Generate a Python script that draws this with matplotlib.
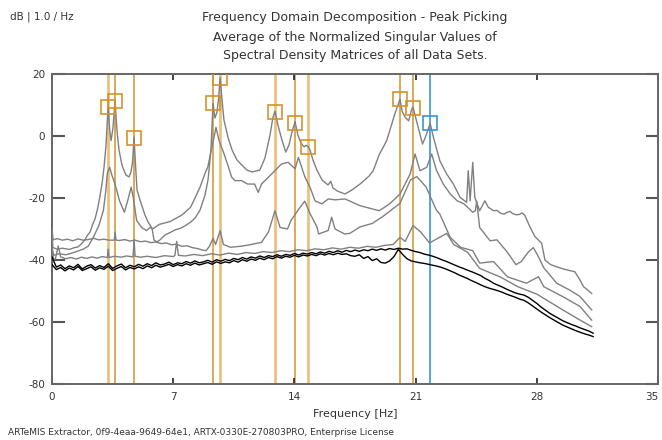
import numpy as np
import matplotlib
matplotlib.use("Agg")
import matplotlib.pyplot as plt

plt.rcParams['font.family'] = ['DejaVu Sans']
plt.rcParams['axes.unicode_minus'] = False

# ---------------- data ----------------
sv1_f = [0.00, 0.05, 0.3, 0.6, 1.0, 1.3, 1.5, 1.7, 1.9, 2.05, 2.2, 2.35, 2.5, 2.65, 2.77, 2.9, 3.0, 3.12,
         3.24, 3.33, 3.41, 3.52, 3.64, 3.75, 3.87, 4.04, 4.27, 4.45, 4.56, 4.65, 4.74, 4.82, 4.91, 5.08,
         5.25, 5.37, 5.54, 5.66, 5.78, 5.89, 6.06, 6.24, 6.53, 6.8, 7.1, 7.4, 7.68, 8.0, 8.26, 8.55, 8.84,
         9.01, 9.18, 9.30, 9.41, 9.53, 9.62, 9.71, 9.82, 9.93, 10.17, 10.4, 10.68, 10.97, 11.26, 11.55,
         11.78, 12.0, 12.3, 12.59, 12.76, 12.88, 13.05, 13.28, 13.5, 13.69, 13.86, 14.04, 14.2, 14.38,
         14.56, 14.68, 14.79, 14.9, 15.07, 15.3, 15.6, 15.94, 16.1, 16.23, 16.5, 16.92, 17.3, 17.79, 18.3,
         18.55, 18.9, 19.33, 19.8, 20.1, 20.22, 20.4, 20.6, 20.78, 20.85, 21.1, 21.4, 21.6, 21.84, 22.03,
         22.4, 22.8, 23.18, 23.57, 23.95, 24.04, 24.15, 24.3, 24.42, 24.7, 25.0, 25.2, 25.5, 25.7, 25.9,
         26.1, 26.3, 26.45, 26.6, 26.8, 27.0, 27.15, 27.3, 27.6, 27.9, 28.28, 28.47, 28.8, 29.15, 29.6,
         30.2, 30.5, 30.7, 31.17]
sv1_db = [-30.5, -36.0, -36.5, -36.2, -36.6, -36.0, -35.8, -34.8, -33.5, -32.0, -31.0, -28.5, -26.5, -23.0,
          -19.4, -15.0, -10.3, -3.0, 9.6, 2.0, -1.5, 2.5, 11.4, 2.0, -4.5, -9.4, -12.6, -13.2, -11.6, -8.5,
          -0.4, -9.0, -17.4, -20.6, -23.5, -25.5, -27.7, -28.7, -29.8, -33.5, -34.2, -33.5, -31.9, -31.2,
          -30.3, -29.8, -29.0, -27.8, -26.5, -23.9, -19.0, -14.2, -4.5, 10.6, 5.8, 7.7, 12.0, 18.8, 11.6,
          5.2, -0.6, -4.5, -7.7, -9.4, -11.0, -11.6, -11.3, -11.0, -7.1, 0.3, 6.0, 8.0, 3.5, -1.3, -5.2,
          -2.9, 1.3, 4.6, 0.3, -2.3, -3.5, -3.0, -3.4, -4.5, -7.7, -11.0, -14.2, -15.8, -14.6, -16.8, -17.8,
          -18.7, -17.5, -15.5, -13.0, -11.2, -6.0, -1.5, 7.1, 11.9, 8.0, 6.0, 4.9, 8.7, 9.3, 3.9, -2.6, 0.1,
          4.1, -0.4, -8.0, -12.3, -15.5, -19.8, -21.4, -11.2, -20.9, -8.5, -19.8, -24.1, -20.9, -23.0, -24.1,
          -24.0, -24.9, -25.2, -24.6, -24.3, -25.0, -25.4, -25.3, -24.8, -25.5, -29.3, -32.5, -34.6, -40.0,
          -41.5, -42.2, -43.0, -43.8, -46.5, -48.6, -50.8]

sv2_f = [0.0, 0.1, 0.4, 0.8, 1.0, 1.3, 1.8, 2.1, 2.4, 2.7, 2.97, 3.1, 3.2, 3.33, 3.45, 3.64, 3.9, 4.18,
         4.37, 4.57, 4.7, 4.89, 5.18, 5.46, 5.66, 5.8, 6.2, 6.82, 7.5, 8.0, 8.26, 8.55, 8.84, 9.0, 9.18,
         9.3, 9.47, 9.65, 9.94, 10.13, 10.38, 10.57, 10.95, 11.3, 11.7, 11.91, 12.1, 12.68, 13.26, 13.64,
         14.04, 14.23, 14.61, 14.9, 15.19, 15.58, 15.96, 16.35, 16.92, 17.8, 18.9, 19.5, 20.1, 20.68, 20.97,
         21.25, 21.64, 21.93, 22.2, 22.6, 23.0, 23.4, 23.8, 24.3, 24.45, 24.53, 24.7, 25.3, 25.7, 26.3,
         26.8, 27.1, 27.5, 27.8, 28.1, 28.4, 29.15, 29.9, 30.5, 31.17]
sv2_db = [-36.0, -38.5, -38.0, -38.3, -38.0, -37.5, -36.5, -35.5, -32.5, -29.0, -24.0, -18.0, -12.0, -10.1,
          -12.5, -15.5, -20.9, -24.6, -20.9, -16.5, -20.0, -27.3, -29.5, -30.5, -29.5, -30.0, -28.5, -27.6,
          -25.5, -23.0, -20.0, -16.5, -12.0, -10.0, -5.0, -2.0, 2.8, -1.5, -5.8, -9.0, -13.3, -14.4, -14.4,
          -15.5, -15.5, -18.2, -15.5, -12.3, -9.0, -8.5, -10.6, -6.9, -13.3, -16.5, -20.9, -21.9, -20.3,
          -20.6, -20.3, -22.5, -24.1, -21.9, -18.7, -12.3, -5.8, -11.2, -10.1, -5.8, -11.0, -15.5, -18.7,
          -20.9, -21.9, -24.6, -24.1, -21.0, -29.5, -33.8, -33.5, -37.5, -41.5, -40.5, -37.5, -36.0, -39.0,
          -42.5, -47.5, -49.7, -51.8, -56.1]

sv3_f = [0.0, 0.06, 0.3, 0.6, 0.9, 1.2, 1.5, 1.8, 2.1, 2.4, 2.7, 3.0, 3.3, 3.6, 3.64, 3.7, 3.9, 4.2, 4.5,
         4.8, 5.1, 5.4, 5.7, 6.0, 6.3, 6.6, 6.9, 7.2, 7.5, 7.8, 8.1, 8.4, 8.7, 8.9, 9.1, 9.3,
         9.45, 9.71, 9.9, 10.3, 11.0, 11.5, 12.1, 12.5, 12.88, 13.17, 13.6, 13.8, 14.2, 14.6, 14.9, 15.3,
         15.4, 15.95, 16.15, 16.35, 16.9, 17.2, 17.8, 18.5, 19.1, 20.1, 20.7, 21.07, 21.6, 22.2, 22.4, 23.0,
         23.6, 24.3, 24.7, 25.5, 26.3, 27.4, 28.1, 28.4, 29.5, 30.5, 31.17]
sv3_db = [-29.5, -33.5, -33.1, -33.6, -33.3, -33.8, -33.2, -33.6, -33.4, -33.0, -33.5, -33.3, -33.6, -33.6,
          -31.0, -33.6, -33.7, -33.4, -33.9, -33.6, -34.1, -33.9, -34.4, -34.2, -34.7, -34.5, -35.1, -34.9,
          -35.6, -35.4, -36.0, -36.3, -36.8, -37.0, -35.5, -33.0,
          -35.0, -30.5, -35.0, -35.9, -35.5, -35.0, -34.3, -31.0, -24.1,
          -29.5, -30.0, -27.3, -24.0, -21.0, -25.0, -29.3, -31.6, -30.5, -26.2, -30.0, -31.6, -31.4, -29.3,
          -28.2, -26.0, -21.7, -14.2, -13.1, -16.4, -23.9, -25.2, -32.7, -35.9, -37.0, -41.0, -40.5, -45.4,
          -47.5, -45.4, -48.6, -51.8, -55.0, -59.4]

sv4_f = [0.0, 0.1, 0.2, 0.36, 0.5, 0.8, 1.1, 1.4, 1.7, 2.0, 2.3, 2.6, 2.9, 3.2, 3.24, 3.3, 3.6, 4.0, 4.3,
         4.68, 4.74, 4.8, 5.1, 5.5, 6.0, 6.5, 7.0, 7.1, 7.2, 7.3, 7.7, 8.2, 8.7, 9.2, 9.7, 10.2, 10.7,
         11.2, 11.7, 12.2, 12.7, 13.2, 13.7, 14.2, 14.7, 15.2, 15.7, 16.2, 16.7, 17.2, 17.7, 18.2, 18.7,
         19.2, 19.7, 20.1, 20.4, 20.85, 21.3, 21.8, 22.8, 23.2, 24.0, 24.7, 25.9, 26.9, 28.0, 29.5, 30.5,
         31.17]
sv4_db = [-37.0, -40.0, -39.5, -35.5, -39.0, -39.6, -39.2, -39.7, -39.1, -39.5, -39.0, -39.4, -38.9, -39.2,
          -36.5, -39.2, -38.8, -39.1, -38.7, -39.0, -33.5, -38.8, -39.1, -38.8, -39.2, -38.6, -38.9, -38.5,
          -34.0, -38.5, -38.7, -38.2, -38.6, -38.0, -38.4, -37.8, -38.2, -37.6, -37.9, -37.3, -37.6, -37.0,
          -37.3, -36.7, -37.0, -36.4, -36.7, -36.1, -36.5, -35.9, -36.2, -35.6, -35.9, -35.3, -35.0, -32.7,
          -34.0, -28.9, -31.0, -34.5, -31.4, -35.0, -37.5, -42.7, -45.5, -48.6, -51.0, -56.1, -59.4, -61.5]

noise_f = np.arange(126) * 0.25
black1_db = [-39.0, -42.3, -41.6, -42.8, -41.9, -42.5, -41.4, -42.9, -42.0, -41.5,
             -42.6, -41.8, -42.4, -41.2, -42.7, -41.9, -41.3, -42.5, -41.7, -42.2,
             -41.4, -42.0, -41.2, -41.8, -40.9, -41.6, -41.3, -40.7, -41.5, -40.9,
             -41.2, -40.5, -41.0, -40.3, -40.9, -40.6, -40.1, -40.7, -39.9, -40.4,
             -39.8, -40.2, -39.5, -39.9, -39.2, -39.7, -39.0, -39.4, -38.7, -39.2,
             -38.6, -38.9, -38.3, -38.8, -38.2, -38.5, -37.9, -38.4, -37.8, -38.1,
             -37.6, -38.0, -37.4, -37.8, -37.2, -37.6, -37.0, -37.5, -36.9, -37.3,
             -36.8, -37.2, -36.7, -37.0, -36.5, -36.9, -36.4, -36.8, -36.3, -36.6,
             -36.2, -36.5, -36.4, -36.9, -37.3, -37.6, -38.1, -38.4, -38.8, -39.3,
             -39.9, -40.4, -41.0, -41.6, -42.2, -42.7, -43.3, -43.8, -44.4, -45.0,
             -45.9, -46.6, -47.5, -48.1, -48.7, -49.4, -50.0, -50.6, -51.0, -51.3,
             -52.0, -53.0, -54.0, -55.2, -56.2, -57.2, -58.0, -58.8, -59.6, -60.2,
             -60.8, -61.3, -61.9, -62.4, -62.9, -63.6]
black2_db = [-41.5, -43.1, -42.4, -43.5, -42.6, -43.2, -42.1, -43.4, -42.8, -42.2,
             -43.3, -42.5, -43.0, -42.0, -43.4, -42.7, -42.1, -43.2, -42.4, -42.9,
             -42.2, -42.8, -41.9, -42.5, -41.7, -42.3, -41.9, -41.4, -42.1, -41.5,
             -41.9, -41.2, -41.7, -41.0, -41.6, -41.2, -40.8, -41.4, -40.6, -41.1,
             -40.6, -40.9, -40.2, -40.7, -39.9, -40.4, -39.7, -40.1, -39.4, -39.9,
             -39.2, -39.6, -38.9, -39.4, -38.8, -39.1, -38.5, -39.0, -38.4, -38.7,
             -38.2, -38.6, -38.0, -38.4, -37.9, -38.3, -37.8, -38.2, -38.0, -38.6,
             -38.8, -38.3, -39.5, -38.9, -40.2, -39.6, -40.8, -41.0, -40.3, -38.9,
             -36.6, -38.2, -39.6, -40.3, -40.6, -40.9, -41.1, -41.4, -41.7, -42.0,
             -42.4, -42.9, -43.5, -44.1, -44.8, -45.4, -46.0, -46.7, -47.3, -48.0,
             -48.6, -49.1, -49.5, -49.9, -50.4, -51.0, -51.5, -52.0, -52.6, -53.0,
             -53.8, -54.8, -55.8, -56.8, -57.7, -58.6, -59.4, -60.2, -61.0, -61.6,
             -62.2, -62.8, -63.3, -63.8, -64.2, -64.7]

peak_freqs = [3.24, 3.64, 4.74, 9.30, 9.71, 12.88, 14.04, 14.79, 20.10, 20.85, 21.84]
peak_vals = [9.4, 11.3, -0.6, 10.6, 18.8, 7.8, 4.3, -3.5, 11.8, 8.9, 4.1]
peak_kind = ['light', 'dark', 'dark', 'dark', 'light', 'light', 'dark', 'light', 'dark', 'dark', 'blue']

x_ticks = [0, 7, 14, 21, 28, 35]
y_ticks = [-80, -60, -40, -20, 0, 20]

# ---------------- figure ----------------
W, H = 662, 440
fig = plt.figure(figsize=(W / 100, H / 100), dpi=100)
ax = fig.add_axes([52 / W, 56 / H, 606 / W, 310 / H])
ax.set_xlim(0, 35)
ax.set_ylim(-80, 20)

line_styles = {'light': dict(color='#e9c27e', lw=2.0),
               'dark': dict(color='#d4922a', lw=1.1),
               'blue': dict(color='#3d93d3', lw=1.2)}
for f, kind in zip(peak_freqs, peak_kind):
    ax.axvline(f, zorder=1, **line_styles[kind])

gray = '#808080'
for fx, fy in [(sv4_f, sv4_db), (sv3_f, sv3_db), (sv2_f, sv2_db), (sv1_f, sv1_db)]:
    ax.plot(fx, fy, color=gray, lw=1.0, zorder=3)
ax.plot(noise_f, black2_db, color='black', lw=1.0, zorder=4)
ax.plot(noise_f, black1_db, color='black', lw=1.0, zorder=4)

for f, v, kind in zip(peak_freqs, peak_vals, peak_kind):
    ec = '#3d93d3' if kind == 'blue' else '#d4922a'
    ax.plot([f], [v], marker='s', markersize=10, markerfacecolor='none',
            markeredgecolor=ec, markeredgewidth=1.2, zorder=5)

ax.set_xticks(x_ticks)
ax.set_yticks(y_ticks)
ax.set_xticklabels([str(t) for t in x_ticks])
ax.set_yticklabels([str(t) for t in y_ticks])
ax.tick_params(axis='y', direction='in', length=9, width=1.5, color='#555555',
               labelsize=7.5, labelcolor='#333333', right=True, pad=5)
ax.tick_params(axis='x', direction='in', length=4.5, width=1.2, color='#222222',
               labelsize=7.5, labelcolor='#333333', top=True, pad=6)
ax.get_xticklabels()[-1].set_horizontalalignment('right')
for s in ax.spines.values():
    s.set_color('#666666')
    s.set_linewidth(1.4)

cx = 355 / W
tc = '#333333'
fig.text(cx, 1 - 18 / H, 'Frequency Domain Decomposition - Peak Picking', ha='center', va='center',
         fontsize=9, color=tc)
fig.text(cx, 1 - 37 / H, 'Average of the Normalized Singular Values of', ha='center', va='center',
         fontsize=9, color=tc)
fig.text(cx, 1 - 55 / H, 'Spectral Density Matrices of all Data Sets.', ha='center', va='center',
         fontsize=9, color=tc)
fig.text(10 / W, 1 - 17 / H, 'dB | 1.0 / Hz', ha='left', va='center', fontsize=7.5, color=tc)
fig.text(cx, 1 - 414 / H, 'Frequency [Hz]', ha='center', va='center', fontsize=8, color=tc)
fig.text(8 / W, 1 - 432 / H, 'ARTeMIS Extractor, 0f9-4eaa-9649-64e1, ARTX-0330E-270803PRO, Enterprise License',
         ha='left', va='center', fontsize=6.5, color=tc)

fig.savefig('out.png', dpi=100)
